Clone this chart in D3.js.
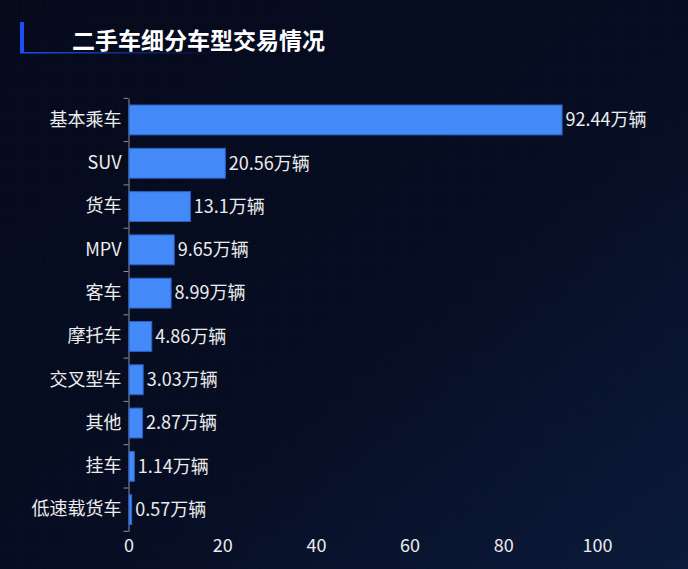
<!DOCTYPE html>
<html><head><meta charset="utf-8">
<script src="https://cdn.jsdelivr.net/npm/d3@7"></script>
<style>html,body{margin:0;padding:0;background:#050a1c;}svg{display:block;}</style>
</head><body>
<svg id="c" width="688" height="569"></svg>
<script>
const categories = ["基本乘车","SUV","货车","MPV","客车","摩托车","交叉型车","其他","挂车","低速载货车"];
const values = [92.44, 20.56, 13.1, 9.65, 8.99, 4.86, 3.03, 2.87, 1.14, 0.57];
const valueLabels = ["92.44万辆","20.56万辆","13.1万辆","9.65万辆","8.99万辆","4.86万辆","3.03万辆","2.87万辆","1.14万辆","0.57万辆"];
const xTicks = [0, 20, 40, 60, 80, 100];
const title = "二手车细分车型交易情况";

const svg = d3.select("#c");
const W = 688, H = 569;
const font = "'Noto Sans CJK SC','Noto Sans',sans-serif";
const defs = svg.append("defs");
const bg = defs.append("linearGradient").attr("id","bg").attr("x1","0").attr("y1","0").attr("x2","1").attr("y2","1");
bg.append("stop").attr("offset","0").attr("stop-color","#050a1b");
bg.append("stop").attr("offset","0.55").attr("stop-color","#060d22");
bg.append("stop").attr("offset","1").attr("stop-color","#0b1a3a");
const pat = defs.append("pattern").attr("id","grid").attr("width",6).attr("height",6).attr("patternUnits","userSpaceOnUse");
pat.append("path").attr("d","M6 0 V6 M0 6 H6").attr("stroke","#1a2a55").attr("stroke-width",0.5).attr("opacity",0.18);
svg.append("rect").attr("width",W).attr("height",H).attr("fill","url(#bg)");
svg.append("rect").attr("width",W).attr("height",H).attr("fill","url(#grid)");

// title decoration
const tg = defs.append("linearGradient").attr("id","tl").attr("x1","0").attr("x2","1");
tg.append("stop").attr("offset","0").attr("stop-color","#1d4ff0").attr("stop-opacity",1);
tg.append("stop").attr("offset","1").attr("stop-color","#1d4ff0").attr("stop-opacity",0);
svg.append("rect").attr("x",20).attr("y",22).attr("width",4).attr("height",31).attr("fill","#1f4ff2");
svg.append("rect").attr("x",20).attr("y",52).attr("width",200).attr("height",1.5).attr("fill","url(#tl)");
svg.append("text").attr("x",72).attr("y",48.5).attr("fill","#ffffff").attr("font-family",font)
  .attr("font-size",23).attr("font-weight","bold").text(title);

const x = d3.scaleLinear().domain([0,100]).range([128.5,597]);
const y = d3.scaleBand().domain(categories).range([98.3,531.3]).paddingInner(0.31).paddingOuter(0.155);

const gx = svg.append("g").attr("transform","translate(0,531)")
  .call(d3.axisBottom(x).tickValues(xTicks).tickSize(0).tickPadding(8));
gx.select(".domain").remove();
gx.selectAll("text").attr("fill","#ececec").attr("font-size",18).attr("font-family",font);

const yb = d3.scaleBand().domain(categories).range([98.3,531.3]);
const gy = svg.append("g").attr("transform","translate(128.5,0)")
  .call(d3.axisLeft(yb).tickSize(0).tickPadding(7));
gy.select(".domain").attr("stroke","#8a8f9c");
gy.selectAll("text").attr("fill","#ececec").attr("font-size",18).attr("font-family",font);
// boundary ticks
const bounds = categories.map(c=>yb(c)).concat([yb(categories[categories.length-1])+yb.bandwidth()]);
svg.append("g").selectAll("line").data(bounds).join("line")
  .attr("x1",123.5).attr("x2",128.5).attr("y1",d=>d).attr("y2",d=>d).attr("stroke","#8a8f9c");

svg.append("g").selectAll("rect").data(values).join("rect")
  .attr("x",x(0)+0.5).attr("y",(d,i)=>y(categories[i]))
  .attr("width",d=>Math.max(0,x(d)-x(0))).attr("height",y.bandwidth())
  .attr("fill","#438af8").attr("stroke","#2b61c6").attr("stroke-width",1);

svg.append("g").selectAll("text").data(values).join("text")
  .attr("x",d=>x(d)+4).attr("y",(d,i)=>y(categories[i])+y.bandwidth()/2)
  .attr("dy","0.35em").attr("fill","#ececec").attr("font-size",18).attr("font-family",font)
  .text((d,i)=>valueLabels[i]);
</script>
</body></html>
